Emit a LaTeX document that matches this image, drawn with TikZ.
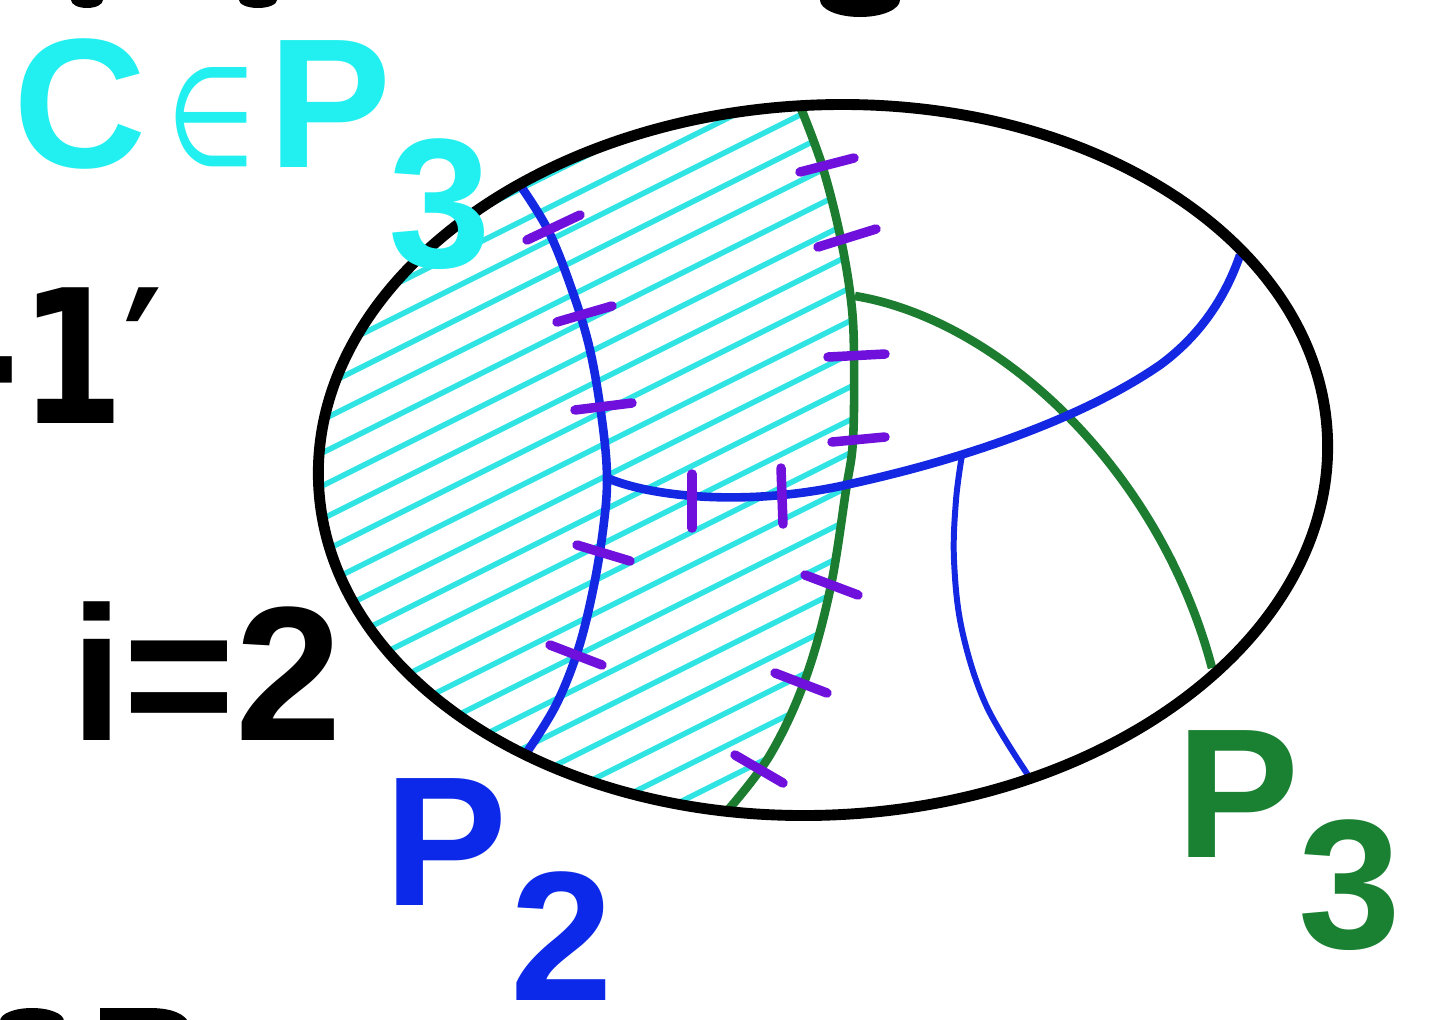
\documentclass[tikz,border=0pt]{standalone}
\usepackage{fontspec}
\newfontfamily\labfont{Liberation Sans}
\newfontfamily\dejafont{DejaVu Sans}
\definecolor{cyanT}{RGB}{34,240,240}
\definecolor{hatchC}{RGB}{48,228,228}
\definecolor{blueL}{RGB}{20,40,228}
\definecolor{greenL}{RGB}{28,124,48}
\definecolor{purp}{RGB}{112,16,220}
\definecolor{blueT}{RGB}{12,40,232}
\definecolor{greenT}{RGB}{26,128,50}
\tikzset{
  rim/.style={draw=black, line width=6.2pt},
  blueline/.style={draw=blueL, line width=4.9pt},
  bluethin/.style={draw=blueL, line width=3.4pt},
  greenline/.style={draw=greenL, line width=4.9pt},
  hatchline/.style={draw=hatchC, line width=3.1pt},
  tickmark/.style={draw=purp, line width=5.4pt, line cap=round},
  lab/.style={inner sep=0pt, anchor=base west, font=\labfont\bfseries\fontsize{105}{110}\selectfont},
}
\begin{document}
\begin{tikzpicture}[x=0.02cm,y=-0.02cm]
\useasboundingbox (0,0) rectangle (1434,1019);
\fill[white] (0,0) rectangle (1434,1019);

% hatched region
\begin{scope}
\clip[rotate around={3:(823,460)}] (823,460) ellipse [x radius=505, y radius=355];
\clip plot[smooth, tension=0.6] coordinates {(800,106) (822,165) (840,235) (851,300) (854,355) (853,440) (846,490) (830,590) (805,680) (770,755) (728,810)} -- (300,840) -- (300,80) -- cycle;
\foreach \c in {350,383,...,1260}
  \draw[hatchline] (300,\c-150) -- (950,\c-475);
\end{scope}

% named end points
\coordinate (gA) at (800,106);
\coordinate (gB) at (728,810);
\coordinate (gJ) at (855,296);
\coordinate (gC) at (1212,668);
\coordinate (bA) at (518,182);
\coordinate (bJ) at (607,478);
\coordinate (bB) at (527,752);
\coordinate (bM) at (850,484);
\coordinate (bN) at (1160,365);
\coordinate (bC) at (1240,255);
\coordinate (bK) at (962,455);
\coordinate (bD) at (1028,775);

% green curves
\draw[greenline] plot[smooth, tension=0.6] coordinates {(gA) (822,165) (840,235) (851,300) (854,355) (853,440) (846,490) (830,590) (805,680) (770,755) (gB)};
\draw[greenline] (gJ) .. controls (1000,320) and (1160,470) .. (gC);

% blue curves
\draw[blueline] plot[smooth, tension=0.6] coordinates {(bA) (548,230) (572,290) (590,350) (602,420) (bJ) (603,530) (593,590) (578,650) (556,705) (bB)};
\draw[blueline] (bJ) .. controls (660,500) and (760,505) .. (bM)
  .. controls (960,460) and (1080,420) .. (bN)
  .. controls (1205,332) and (1228,290) .. (bC);
\draw[bluethin] plot[smooth, tension=0.6] coordinates {(bK) (956,500) (954,560) (962,630) (986,705) (bD)};

% purple ticks
\draw[tickmark] (527,240) -- (580,215);
\draw[tickmark] (557,322) -- (612,306);
\draw[tickmark] (575,410) -- (632,403);
\draw[tickmark] (577,545) -- (630,561);
\draw[tickmark] (550,645) -- (602,665);
\draw[tickmark] (692,474) -- (692,528);
\draw[tickmark] (781,468) -- (783,524);
\draw[tickmark] (800,172) -- (854,158);
\draw[tickmark] (818,247) -- (876,229);
\draw[tickmark] (828,357) -- (885,354);
\draw[tickmark] (832,442) -- (885,437);
\draw[tickmark] (805,575) -- (858,595);
\draw[tickmark] (775,673) -- (827,693);
\draw[tickmark] (735,755) -- (783,783);

% outer ellipse
\draw[rim, rotate around={3:(823,460)}] (823,460) ellipse [x radius=505, y radius=355];

% labels
\node[lab, text=cyanT] (lc) at (13,167) {C};
\node[inner sep=0pt, anchor=south, text=cyanT] (lin) at (211,167) {\resizebox{88\dimexpr0.02cm\relax}{98\dimexpr0.02cm\relax}{\dejafont ∈}};
\node[lab, text=cyanT] (lp) at (268,167) {P};
\node[lab, text=cyanT] (l3) at (388,267) {3};
\node[lab, text=blueT] (bp) at (384,905) {P};
\node[lab, text=blueT] (b2) at (510,1000) {2};
\node[lab, text=greenT] (gp) at (1176,857) {P};
\node[lab, text=greenT] (g3) at (1298,948) {3};
\node[inner sep=0pt, anchor=base west, xscale=0.8, font=\dejafont\bfseries\fontsize{106}{110}\selectfont] (m1) at (-42,423) {-1′};
\node[inner sep=0pt, anchor=base west, font=\labfont\bfseries\fontsize{109}{112}\selectfont] (i2) at (70,740) {i=2};

% cut-off fragments at the edges
\fill (87,0) ellipse [x radius=16, y radius=8];
\fill (258,0) ellipse [x radius=19, y radius=8];
\fill (860,0) ellipse [x radius=40, y radius=17];
\fill (32,1021) ellipse [x radius=32, y radius=13];
\fill (100,1008) -- (150,1008) .. controls (172,1008) and (186,1014) .. (190,1025) -- (100,1025) -- cycle;
\end{tikzpicture}
\end{document}
